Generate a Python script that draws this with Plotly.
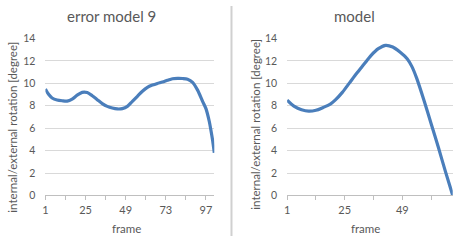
import plotly.graph_objects as go

# ---- data ----
left_title = "error model 9"
right_title = "model"
y_title = "internal/external rotation [degree]"
x_title = "frame"

left_frames = [1, 3, 5, 8, 11, 14, 17, 20, 23, 26, 29, 32, 35, 38, 41, 44, 47, 50,
               53, 56, 59, 62, 65, 68, 71, 74, 77, 80, 83, 86, 89, 92, 95, 97, 99, 100, 101, 102]
left_values = [9.5, 9.0, 8.7, 8.52, 8.45, 8.42, 8.6, 8.95, 9.2, 9.18, 8.9, 8.55, 8.2, 7.95,
               7.8, 7.72, 7.75, 7.95, 8.4, 8.85, 9.3, 9.65, 9.85, 10.0, 10.12, 10.28, 10.42,
               10.45, 10.44, 10.38, 10.1, 9.4, 8.4, 7.75, 6.6, 5.8, 4.9, 3.8]

right_frames = [1, 4, 7, 10, 13, 16, 19, 21, 24, 27, 30, 33, 36, 39, 42, 45, 48, 51, 53,
                55, 58, 61, 64, 67, 70]
right_values = [8.5, 7.95, 7.65, 7.52, 7.6, 7.85, 8.15, 8.5, 9.2, 10.05, 10.9, 11.7, 12.5,
                13.1, 13.4, 13.25, 12.8, 12.2, 11.5, 10.45, 8.5, 6.4, 4.3, 2.1, 0.0]

y_ticks = [0, 2, 4, 6, 8, 10, 12, 14]
left_tick_frames = [1, 13, 25, 37, 49, 61, 73, 85, 97]
left_tick_labels = ["1", "", "25", "", "49", "", "73", "", "97"]
right_tick_frames = [1, 13, 25, 37, 49, 61]
right_tick_labels = ["1", "", "25", "", "49", ""]

W, H = 459, 242
FONT = "Lato, 'Open Sans', sans-serif"
TXT = "#595959"
LINE = "#4a7ebb"
GRID = "#d9d9d9"

fig = go.Figure()
fig.add_trace(go.Scatter(x=left_frames, y=left_values, mode="lines",
                         line=dict(color=LINE, width=3.2, shape="spline", smoothing=0.8),
                         xaxis="x", yaxis="y", showlegend=False, hoverinfo="skip"))
fig.add_trace(go.Scatter(x=right_frames, y=right_values, mode="lines",
                         line=dict(color=LINE, width=3.2, shape="spline", smoothing=0.8),
                         xaxis="x2", yaxis="y2", showlegend=False, hoverinfo="skip"))

ydom = [(H - 199.3) / H, (H - 34.3) / H]

xcommon = dict(showgrid=False, zeroline=False, showline=True, linecolor="#bfbfbf", linewidth=1,
               ticks="outside", ticklen=4, tickcolor="#bfbfbf", tickwidth=1,
               tickfont=dict(family=FONT, size=11, color=TXT), fixedrange=True)
ycommon = dict(range=[0, 14], tickvals=y_ticks, showgrid=True, gridcolor=GRID, gridwidth=1,
               zeroline=False, showline=False, ticks="", ticklabelstandoff=9,
               tickfont=dict(family=FONT, size=10.5, color=TXT), fixedrange=True)

fig.update_layout(
    width=W, height=H,
    margin=dict(l=0, r=0, t=0, b=0),
    paper_bgcolor="white", plot_bgcolor="white",
    xaxis=dict(domain=[42.7 / W, 212.7 / W], range=[1, 102], tickvals=left_tick_frames,
               ticktext=left_tick_labels, anchor="y", **xcommon),
    yaxis=dict(domain=ydom, anchor="x", **ycommon),
    xaxis2=dict(domain=[286 / W, 452.7 / W], range=[1, 70], tickvals=right_tick_frames,
                ticktext=right_tick_labels, anchor="y2", **xcommon),
    yaxis2=dict(domain=ydom, anchor="x2", **ycommon),
    showlegend=False,
)

ann = []
ann.append(dict(text=left_title, x=109.5 / W, y=1 - 11 / H, xref="paper", yref="paper",
                xanchor="center", yanchor="middle", showarrow=False,
                font=dict(family=FONT, size=15, color=TXT)))
ann.append(dict(text=right_title, x=354 / W, y=1 - 11 / H, xref="paper", yref="paper",
                xanchor="center", yanchor="middle", showarrow=False,
                font=dict(family=FONT, size=15, color=TXT)))
ann.append(dict(text=y_title, x=10 / W, y=1 - 127 / H, xref="paper", yref="paper",
                xanchor="center", yanchor="middle", showarrow=False, textangle=-90,
                font=dict(family=FONT, size=11.5, color=TXT)))
ann.append(dict(text=y_title, x=254.5 / W, y=1 - 124 / H, xref="paper", yref="paper",
                xanchor="center", yanchor="middle", showarrow=False, textangle=-90,
                font=dict(family=FONT, size=11.5, color=TXT)))
ann.append(dict(text=x_title, x=124 / W, y=1 - 234 / H, xref="paper", yref="paper",
                xanchor="center", yanchor="middle", showarrow=False,
                font=dict(family=FONT, size=11.5, color=TXT)))
ann.append(dict(text=x_title, x=365 / W, y=1 - 234 / H, xref="paper", yref="paper",
                xanchor="center", yanchor="middle", showarrow=False,
                font=dict(family=FONT, size=11.5, color=TXT)))
fig.update_layout(annotations=ann)

fig.add_shape(type="line", xref="paper", yref="paper", x0=230 / W, x1=230 / W, y0=0, y1=1,
              line=dict(color="#d0d0d0", width=2))

fig.write_html("out.html", config={"displayModeBar": False},
               post_script="document.body.style.margin='0';document.body.style.padding='0';"
                           "document.body.style.overflow='hidden';")
